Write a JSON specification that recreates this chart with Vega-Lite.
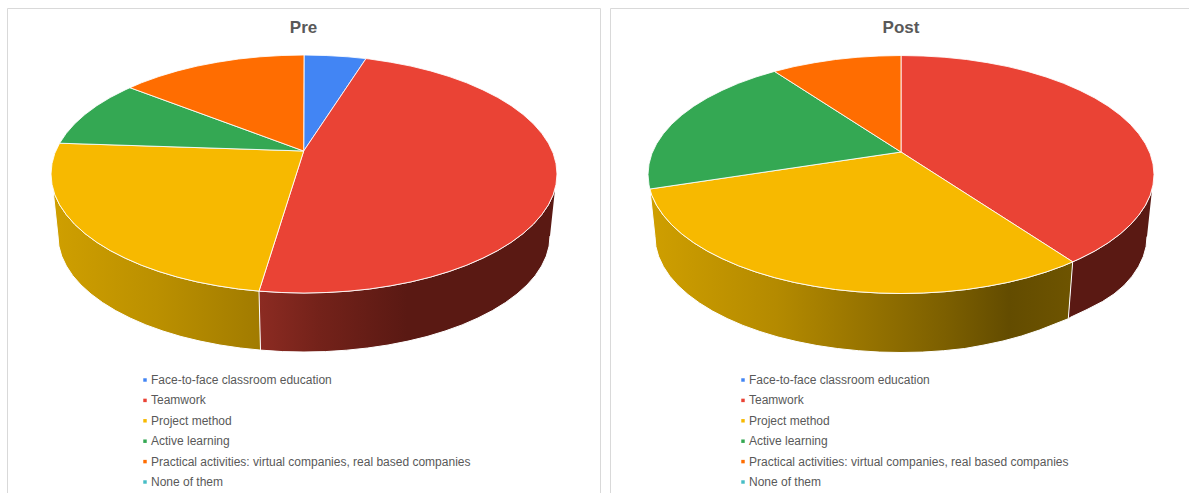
{"$schema":"https://vega.github.io/schema/vega-lite/v6.json","padding":{"left":6,"top":7,"right":0,"bottom":0},"background":"white","spacing":8,"resolve":{"scale":{"fill":"independent"},"legend":{"fill":"independent"}},"config":{"view":{"stroke":"#d9d9d9","strokeWidth":1},"title":{"font":"Liberation Sans","fontSize":17,"fontWeight":"bold","color":"#595959","anchor":"middle","baseline":"middle","offset":-29},"legend":{"orient":"none","direction":"vertical","title":null,"symbolType":"square","symbolSize":12,"symbolStrokeWidth":0,"labelFont":"Liberation Sans","labelFontSize":12,"labelColor":"#595959","labelLimit":400,"rowPadding":8.4,"labelOffset":0,"columns":1}},
"datasets":{"pre":[
{"s":"Face-to-face classroom education","p":"top","n":0,"u":-0.3,"v":23},{"s":"Face-to-face classroom education","p":"top","n":1,"u":0,"v":119},{"s":"Face-to-face classroom education","p":"top","n":2,"u":22.1,"v":118.5},{"s":"Face-to-face classroom education","p":"top","n":3,"u":43.9,"v":117.2},{"s":"Face-to-face classroom education","p":"top","n":4,"u":62,"v":115.4},{"s":"Face-to-face classroom education","p":"top","n":5,"u":-0.3,"v":23},
{"s":"Teamwork","p":"top","n":0,"u":-0.3,"v":23},{"s":"Teamwork","p":"top","n":1,"u":62,"v":115.4},{"s":"Teamwork","p":"top","n":2,"u":65.5,"v":115},{"s":"Teamwork","p":"top","n":3,"u":86.5,"v":111.8},{"s":"Teamwork","p":"top","n":4,"u":106.9,"v":107.9},{"s":"Teamwork","p":"top","n":5,"u":126.5,"v":103.1},{"s":"Teamwork","p":"top","n":6,"u":145.1,"v":97.5},{"s":"Teamwork","p":"top","n":7,"u":162.6,"v":91.2},{"s":"Teamwork","p":"top","n":8,"u":178.9,"v":84.1},{"s":"Teamwork","p":"top","n":9,"u":193.8,"v":76.5},{"s":"Teamwork","p":"top","n":10,"u":207.2,"v":68.3},{"s":"Teamwork","p":"top","n":11,"u":219.1,"v":59.5},{"s":"Teamwork","p":"top","n":12,"u":229.3,"v":50.3},{"s":"Teamwork","p":"top","n":13,"u":237.7,"v":40.7},{"s":"Teamwork","p":"top","n":14,"u":244.4,"v":30.8},{"s":"Teamwork","p":"top","n":15,"u":249.2,"v":20.7},{"s":"Teamwork","p":"top","n":16,"u":252,"v":10.4},{"s":"Teamwork","p":"top","n":17,"u":253,"v":0},{"s":"Teamwork","p":"top","n":18,"u":252,"v":-10.4},{"s":"Teamwork","p":"top","n":19,"u":249.2,"v":-20.7},{"s":"Teamwork","p":"top","n":20,"u":244.4,"v":-30.8},{"s":"Teamwork","p":"top","n":21,"u":237.7,"v":-40.7},{"s":"Teamwork","p":"top","n":22,"u":229.3,"v":-50.3},{"s":"Teamwork","p":"top","n":23,"u":219.1,"v":-59.5},{"s":"Teamwork","p":"top","n":24,"u":207.2,"v":-68.3},{"s":"Teamwork","p":"top","n":25,"u":193.8,"v":-76.5},{"s":"Teamwork","p":"top","n":26,"u":178.9,"v":-84.1},{"s":"Teamwork","p":"top","n":27,"u":162.6,"v":-91.2},{"s":"Teamwork","p":"top","n":28,"u":145.1,"v":-97.5},{"s":"Teamwork","p":"top","n":29,"u":126.5,"v":-103.1},{"s":"Teamwork","p":"top","n":30,"u":106.9,"v":-107.9},{"s":"Teamwork","p":"top","n":31,"u":86.5,"v":-111.8},{"s":"Teamwork","p":"top","n":32,"u":65.5,"v":-115},{"s":"Teamwork","p":"top","n":33,"u":43.9,"v":-117.2},{"s":"Teamwork","p":"top","n":34,"u":22.1,"v":-118.5},{"s":"Teamwork","p":"top","n":35,"u":0,"v":-119},{"s":"Teamwork","p":"top","n":36,"u":-22.1,"v":-118.5},{"s":"Teamwork","p":"top","n":37,"u":-45,"v":-117.1},{"s":"Teamwork","p":"top","n":38,"u":-0.3,"v":23},
{"s":"Project method","p":"top","n":0,"u":-0.3,"v":23},{"s":"Project method","p":"top","n":1,"u":-45,"v":-117.1},{"s":"Project method","p":"top","n":2,"u":-65.5,"v":-115},{"s":"Project method","p":"top","n":3,"u":-86.5,"v":-111.8},{"s":"Project method","p":"top","n":4,"u":-106.9,"v":-107.9},{"s":"Project method","p":"top","n":5,"u":-126.5,"v":-103.1},{"s":"Project method","p":"top","n":6,"u":-145.1,"v":-97.5},{"s":"Project method","p":"top","n":7,"u":-162.6,"v":-91.2},{"s":"Project method","p":"top","n":8,"u":-178.9,"v":-84.1},{"s":"Project method","p":"top","n":9,"u":-193.8,"v":-76.5},{"s":"Project method","p":"top","n":10,"u":-207.2,"v":-68.3},{"s":"Project method","p":"top","n":11,"u":-219.1,"v":-59.5},{"s":"Project method","p":"top","n":12,"u":-229.3,"v":-50.3},{"s":"Project method","p":"top","n":13,"u":-237.7,"v":-40.7},{"s":"Project method","p":"top","n":14,"u":-244.4,"v":-30.8},{"s":"Project method","p":"top","n":15,"u":-249.2,"v":-20.7},{"s":"Project method","p":"top","n":16,"u":-252,"v":-10.4},{"s":"Project method","p":"top","n":17,"u":-253,"v":0},{"s":"Project method","p":"top","n":18,"u":-252,"v":10.4},{"s":"Project method","p":"top","n":19,"u":-249.2,"v":20.7},{"s":"Project method","p":"top","n":20,"u":-244.4,"v":30.8},{"s":"Project method","p":"top","n":21,"u":-0.3,"v":23},
{"s":"Active learning","p":"top","n":0,"u":-0.3,"v":23},{"s":"Active learning","p":"top","n":1,"u":-244.4,"v":30.8},{"s":"Active learning","p":"top","n":2,"u":-237.7,"v":40.7},{"s":"Active learning","p":"top","n":3,"u":-229.3,"v":50.3},{"s":"Active learning","p":"top","n":4,"u":-219.1,"v":59.5},{"s":"Active learning","p":"top","n":5,"u":-207.2,"v":68.3},{"s":"Active learning","p":"top","n":6,"u":-193.8,"v":76.5},{"s":"Active learning","p":"top","n":7,"u":-178.9,"v":84.1},{"s":"Active learning","p":"top","n":8,"u":-174,"v":86.3},{"s":"Active learning","p":"top","n":9,"u":-0.3,"v":23},
{"s":"Practical activities: virtual companies, real based companies","p":"top","n":0,"u":-0.3,"v":23},{"s":"Practical activities: virtual companies, real based companies","p":"top","n":1,"u":-174,"v":86.3},{"s":"Practical activities: virtual companies, real based companies","p":"top","n":2,"u":-162.6,"v":91.2},{"s":"Practical activities: virtual companies, real based companies","p":"top","n":3,"u":-145.1,"v":97.5},{"s":"Practical activities: virtual companies, real based companies","p":"top","n":4,"u":-126.5,"v":103.1},{"s":"Practical activities: virtual companies, real based companies","p":"top","n":5,"u":-106.9,"v":107.9},{"s":"Practical activities: virtual companies, real based companies","p":"top","n":6,"u":-86.5,"v":111.8},{"s":"Practical activities: virtual companies, real based companies","p":"top","n":7,"u":-65.5,"v":115},{"s":"Practical activities: virtual companies, real based companies","p":"top","n":8,"u":-43.9,"v":117.2},{"s":"Practical activities: virtual companies, real based companies","p":"top","n":9,"u":-22.1,"v":118.5},{"s":"Practical activities: virtual companies, real based companies","p":"top","n":10,"u":0,"v":119},{"s":"Practical activities: virtual companies, real based companies","p":"top","n":11,"u":-0.3,"v":23},
{"s":"Teamwork","p":"wall","n":0,"u":251.1,"v":-14.5},{"s":"Teamwork","p":"wall","n":1,"u":249.2,"v":-20.7},{"s":"Teamwork","p":"wall","n":2,"u":244.4,"v":-30.8},{"s":"Teamwork","p":"wall","n":3,"u":237.7,"v":-40.7},{"s":"Teamwork","p":"wall","n":4,"u":229.3,"v":-50.3},{"s":"Teamwork","p":"wall","n":5,"u":219.1,"v":-59.5},{"s":"Teamwork","p":"wall","n":6,"u":207.2,"v":-68.3},{"s":"Teamwork","p":"wall","n":7,"u":193.8,"v":-76.5},{"s":"Teamwork","p":"wall","n":8,"u":178.9,"v":-84.1},{"s":"Teamwork","p":"wall","n":9,"u":162.6,"v":-91.2},{"s":"Teamwork","p":"wall","n":10,"u":145.1,"v":-97.5},{"s":"Teamwork","p":"wall","n":11,"u":126.5,"v":-103.1},{"s":"Teamwork","p":"wall","n":12,"u":106.9,"v":-107.9},{"s":"Teamwork","p":"wall","n":13,"u":86.5,"v":-111.8},{"s":"Teamwork","p":"wall","n":14,"u":65.5,"v":-115},{"s":"Teamwork","p":"wall","n":15,"u":43.9,"v":-117.2},{"s":"Teamwork","p":"wall","n":16,"u":22.1,"v":-118.5},{"s":"Teamwork","p":"wall","n":17,"u":0,"v":-119},{"s":"Teamwork","p":"wall","n":18,"u":-22.1,"v":-118.5},{"s":"Teamwork","p":"wall","n":19,"u":-45,"v":-117.1},{"s":"Teamwork","p":"wall","n":20,"u":-43.5,"v":-176.1},{"s":"Teamwork","p":"wall","n":21,"u":-21.4,"v":-177.6},{"s":"Teamwork","p":"wall","n":22,"u":0,"v":-178},{"s":"Teamwork","p":"wall","n":23,"u":21.4,"v":-177.6},{"s":"Teamwork","p":"wall","n":24,"u":42.7,"v":-176.2},{"s":"Teamwork","p":"wall","n":25,"u":63.7,"v":-174},{"s":"Teamwork","p":"wall","n":26,"u":84.1,"v":-171},{"s":"Teamwork","p":"wall","n":27,"u":104,"v":-167.1},{"s":"Teamwork","p":"wall","n":28,"u":123,"v":-162.5},{"s":"Teamwork","p":"wall","n":29,"u":141.1,"v":-157},{"s":"Teamwork","p":"wall","n":30,"u":158.1,"v":-150.9},{"s":"Teamwork","p":"wall","n":31,"u":173.9,"v":-144},{"s":"Teamwork","p":"wall","n":32,"u":188.4,"v":-136.6},{"s":"Teamwork","p":"wall","n":33,"u":201.5,"v":-128.5},{"s":"Teamwork","p":"wall","n":34,"u":213,"v":-120},{"s":"Teamwork","p":"wall","n":35,"u":223,"v":-111},{"s":"Teamwork","p":"wall","n":36,"u":231.2,"v":-101.7},{"s":"Teamwork","p":"wall","n":37,"u":237.6,"v":-92},{"s":"Teamwork","p":"wall","n":38,"u":242.3,"v":-82.1},{"s":"Teamwork","p":"wall","n":39,"u":245.1,"v":-72.1},{"s":"Teamwork","p":"wall","n":40,"u":246,"v":-62},
{"s":"Project method","p":"wall","n":0,"u":-45,"v":-117.1},{"s":"Project method","p":"wall","n":1,"u":-65.5,"v":-115},{"s":"Project method","p":"wall","n":2,"u":-86.5,"v":-111.8},{"s":"Project method","p":"wall","n":3,"u":-106.9,"v":-107.9},{"s":"Project method","p":"wall","n":4,"u":-126.5,"v":-103.1},{"s":"Project method","p":"wall","n":5,"u":-145.1,"v":-97.5},{"s":"Project method","p":"wall","n":6,"u":-162.6,"v":-91.2},{"s":"Project method","p":"wall","n":7,"u":-178.9,"v":-84.1},{"s":"Project method","p":"wall","n":8,"u":-193.8,"v":-76.5},{"s":"Project method","p":"wall","n":9,"u":-207.2,"v":-68.3},{"s":"Project method","p":"wall","n":10,"u":-219.1,"v":-59.5},{"s":"Project method","p":"wall","n":11,"u":-229.3,"v":-50.3},{"s":"Project method","p":"wall","n":12,"u":-237.7,"v":-40.7},{"s":"Project method","p":"wall","n":13,"u":-244.4,"v":-30.8},{"s":"Project method","p":"wall","n":14,"u":-249.2,"v":-20.7},{"s":"Project method","p":"wall","n":15,"u":-251.1,"v":-14.5},{"s":"Project method","p":"wall","n":16,"u":-246,"v":-62},{"s":"Project method","p":"wall","n":17,"u":-245.1,"v":-72.1},{"s":"Project method","p":"wall","n":18,"u":-242.3,"v":-82.1},{"s":"Project method","p":"wall","n":19,"u":-237.6,"v":-92},{"s":"Project method","p":"wall","n":20,"u":-231.2,"v":-101.7},{"s":"Project method","p":"wall","n":21,"u":-223,"v":-111},{"s":"Project method","p":"wall","n":22,"u":-213,"v":-120},{"s":"Project method","p":"wall","n":23,"u":-201.5,"v":-128.5},{"s":"Project method","p":"wall","n":24,"u":-188.4,"v":-136.6},{"s":"Project method","p":"wall","n":25,"u":-173.9,"v":-144},{"s":"Project method","p":"wall","n":26,"u":-158.1,"v":-150.9},{"s":"Project method","p":"wall","n":27,"u":-141.1,"v":-157},{"s":"Project method","p":"wall","n":28,"u":-123,"v":-162.5},{"s":"Project method","p":"wall","n":29,"u":-104,"v":-167.1},{"s":"Project method","p":"wall","n":30,"u":-84.1,"v":-171},{"s":"Project method","p":"wall","n":31,"u":-63.7,"v":-174},{"s":"Project method","p":"wall","n":32,"u":-43.5,"v":-176.1}
],"post":[
{"s":"Teamwork","p":"top","n":0,"u":0,"v":22.5},{"s":"Teamwork","p":"top","n":1,"u":0,"v":119},{"s":"Teamwork","p":"top","n":2,"u":22.1,"v":118.5},{"s":"Teamwork","p":"top","n":3,"u":43.9,"v":117.2},{"s":"Teamwork","p":"top","n":4,"u":65.5,"v":115},{"s":"Teamwork","p":"top","n":5,"u":86.5,"v":111.8},{"s":"Teamwork","p":"top","n":6,"u":106.9,"v":107.9},{"s":"Teamwork","p":"top","n":7,"u":126.5,"v":103.1},{"s":"Teamwork","p":"top","n":8,"u":145.1,"v":97.5},{"s":"Teamwork","p":"top","n":9,"u":162.6,"v":91.2},{"s":"Teamwork","p":"top","n":10,"u":178.9,"v":84.1},{"s":"Teamwork","p":"top","n":11,"u":193.8,"v":76.5},{"s":"Teamwork","p":"top","n":12,"u":207.2,"v":68.3},{"s":"Teamwork","p":"top","n":13,"u":219.1,"v":59.5},{"s":"Teamwork","p":"top","n":14,"u":229.3,"v":50.3},{"s":"Teamwork","p":"top","n":15,"u":237.7,"v":40.7},{"s":"Teamwork","p":"top","n":16,"u":244.4,"v":30.8},{"s":"Teamwork","p":"top","n":17,"u":249.2,"v":20.7},{"s":"Teamwork","p":"top","n":18,"u":252,"v":10.4},{"s":"Teamwork","p":"top","n":19,"u":253,"v":0},{"s":"Teamwork","p":"top","n":20,"u":252,"v":-10.4},{"s":"Teamwork","p":"top","n":21,"u":249.2,"v":-20.7},{"s":"Teamwork","p":"top","n":22,"u":244.4,"v":-30.8},{"s":"Teamwork","p":"top","n":23,"u":237.7,"v":-40.7},{"s":"Teamwork","p":"top","n":24,"u":229.3,"v":-50.3},{"s":"Teamwork","p":"top","n":25,"u":219.1,"v":-59.5},{"s":"Teamwork","p":"top","n":26,"u":207.2,"v":-68.3},{"s":"Teamwork","p":"top","n":27,"u":193.8,"v":-76.5},{"s":"Teamwork","p":"top","n":28,"u":178.9,"v":-84.1},{"s":"Teamwork","p":"top","n":29,"u":171.7,"v":-87.3},{"s":"Teamwork","p":"top","n":30,"u":0,"v":22.5},
{"s":"Project method","p":"top","n":0,"u":0,"v":22.5},{"s":"Project method","p":"top","n":1,"u":171.7,"v":-87.3},{"s":"Project method","p":"top","n":2,"u":162.6,"v":-91.2},{"s":"Project method","p":"top","n":3,"u":145.1,"v":-97.5},{"s":"Project method","p":"top","n":4,"u":126.5,"v":-103.1},{"s":"Project method","p":"top","n":5,"u":106.9,"v":-107.9},{"s":"Project method","p":"top","n":6,"u":86.5,"v":-111.8},{"s":"Project method","p":"top","n":7,"u":65.5,"v":-115},{"s":"Project method","p":"top","n":8,"u":43.9,"v":-117.2},{"s":"Project method","p":"top","n":9,"u":22.1,"v":-118.5},{"s":"Project method","p":"top","n":10,"u":0,"v":-119},{"s":"Project method","p":"top","n":11,"u":-22.1,"v":-118.5},{"s":"Project method","p":"top","n":12,"u":-43.9,"v":-117.2},{"s":"Project method","p":"top","n":13,"u":-65.5,"v":-115},{"s":"Project method","p":"top","n":14,"u":-86.5,"v":-111.8},{"s":"Project method","p":"top","n":15,"u":-106.9,"v":-107.9},{"s":"Project method","p":"top","n":16,"u":-126.5,"v":-103.1},{"s":"Project method","p":"top","n":17,"u":-145.1,"v":-97.5},{"s":"Project method","p":"top","n":18,"u":-162.6,"v":-91.2},{"s":"Project method","p":"top","n":19,"u":-178.9,"v":-84.1},{"s":"Project method","p":"top","n":20,"u":-193.8,"v":-76.5},{"s":"Project method","p":"top","n":21,"u":-207.2,"v":-68.3},{"s":"Project method","p":"top","n":22,"u":-219.1,"v":-59.5},{"s":"Project method","p":"top","n":23,"u":-229.3,"v":-50.3},{"s":"Project method","p":"top","n":24,"u":-237.7,"v":-40.7},{"s":"Project method","p":"top","n":25,"u":-244.4,"v":-30.8},{"s":"Project method","p":"top","n":26,"u":-249.2,"v":-20.7},{"s":"Project method","p":"top","n":27,"u":-251.1,"v":-14.5},{"s":"Project method","p":"top","n":28,"u":0,"v":22.5},
{"s":"Active learning","p":"top","n":0,"u":0,"v":22.5},{"s":"Active learning","p":"top","n":1,"u":-251.1,"v":-14.5},{"s":"Active learning","p":"top","n":2,"u":-252,"v":-10.4},{"s":"Active learning","p":"top","n":3,"u":-253,"v":0},{"s":"Active learning","p":"top","n":4,"u":-252,"v":10.4},{"s":"Active learning","p":"top","n":5,"u":-249.2,"v":20.7},{"s":"Active learning","p":"top","n":6,"u":-244.4,"v":30.8},{"s":"Active learning","p":"top","n":7,"u":-237.7,"v":40.7},{"s":"Active learning","p":"top","n":8,"u":-229.3,"v":50.3},{"s":"Active learning","p":"top","n":9,"u":-219.1,"v":59.5},{"s":"Active learning","p":"top","n":10,"u":-207.2,"v":68.3},{"s":"Active learning","p":"top","n":11,"u":-193.8,"v":76.5},{"s":"Active learning","p":"top","n":12,"u":-178.9,"v":84.1},{"s":"Active learning","p":"top","n":13,"u":-162.6,"v":91.2},{"s":"Active learning","p":"top","n":14,"u":-145.1,"v":97.5},{"s":"Active learning","p":"top","n":15,"u":-126.5,"v":103.1},{"s":"Active learning","p":"top","n":16,"u":0,"v":22.5},
{"s":"Practical activities: virtual companies, real based companies","p":"top","n":0,"u":0,"v":22.5},{"s":"Practical activities: virtual companies, real based companies","p":"top","n":1,"u":-126.5,"v":103.1},{"s":"Practical activities: virtual companies, real based companies","p":"top","n":2,"u":-106.9,"v":107.9},{"s":"Practical activities: virtual companies, real based companies","p":"top","n":3,"u":-86.5,"v":111.8},{"s":"Practical activities: virtual companies, real based companies","p":"top","n":4,"u":-65.5,"v":115},{"s":"Practical activities: virtual companies, real based companies","p":"top","n":5,"u":-43.9,"v":117.2},{"s":"Practical activities: virtual companies, real based companies","p":"top","n":6,"u":-22.1,"v":118.5},{"s":"Practical activities: virtual companies, real based companies","p":"top","n":7,"u":0,"v":119},{"s":"Practical activities: virtual companies, real based companies","p":"top","n":8,"u":0,"v":22.5},
{"s":"Teamwork","p":"wall","n":0,"u":251.1,"v":-14.5},{"s":"Teamwork","p":"wall","n":1,"u":249.2,"v":-20.7},{"s":"Teamwork","p":"wall","n":2,"u":244.4,"v":-30.8},{"s":"Teamwork","p":"wall","n":3,"u":237.7,"v":-40.7},{"s":"Teamwork","p":"wall","n":4,"u":229.3,"v":-50.3},{"s":"Teamwork","p":"wall","n":5,"u":219.1,"v":-59.5},{"s":"Teamwork","p":"wall","n":6,"u":207.2,"v":-68.3},{"s":"Teamwork","p":"wall","n":7,"u":193.8,"v":-76.5},{"s":"Teamwork","p":"wall","n":8,"u":178.9,"v":-84.1},{"s":"Teamwork","p":"wall","n":9,"u":171.7,"v":-87.3},{"s":"Teamwork","p":"wall","n":10,"u":167.3,"v":-144.2},{"s":"Teamwork","p":"wall","n":11,"u":170,"v":-142.5},{"s":"Teamwork","p":"wall","n":12,"u":186,"v":-135},{"s":"Teamwork","p":"wall","n":13,"u":201.5,"v":-127},{"s":"Teamwork","p":"wall","n":14,"u":213,"v":-119.5},{"s":"Teamwork","p":"wall","n":15,"u":223,"v":-111},{"s":"Teamwork","p":"wall","n":16,"u":231.2,"v":-101.7},{"s":"Teamwork","p":"wall","n":17,"u":237.6,"v":-92},{"s":"Teamwork","p":"wall","n":18,"u":242.3,"v":-82.1},{"s":"Teamwork","p":"wall","n":19,"u":245.1,"v":-72.1},{"s":"Teamwork","p":"wall","n":20,"u":246,"v":-62},
{"s":"Project method","p":"wall","n":0,"u":171.7,"v":-87.3},{"s":"Project method","p":"wall","n":1,"u":162.6,"v":-91.2},{"s":"Project method","p":"wall","n":2,"u":145.1,"v":-97.5},{"s":"Project method","p":"wall","n":3,"u":126.5,"v":-103.1},{"s":"Project method","p":"wall","n":4,"u":106.9,"v":-107.9},{"s":"Project method","p":"wall","n":5,"u":86.5,"v":-111.8},{"s":"Project method","p":"wall","n":6,"u":65.5,"v":-115},{"s":"Project method","p":"wall","n":7,"u":43.9,"v":-117.2},{"s":"Project method","p":"wall","n":8,"u":22.1,"v":-118.5},{"s":"Project method","p":"wall","n":9,"u":0,"v":-119},{"s":"Project method","p":"wall","n":10,"u":-22.1,"v":-118.5},{"s":"Project method","p":"wall","n":11,"u":-43.9,"v":-117.2},{"s":"Project method","p":"wall","n":12,"u":-65.5,"v":-115},{"s":"Project method","p":"wall","n":13,"u":-86.5,"v":-111.8},{"s":"Project method","p":"wall","n":14,"u":-106.9,"v":-107.9},{"s":"Project method","p":"wall","n":15,"u":-126.5,"v":-103.1},{"s":"Project method","p":"wall","n":16,"u":-145.1,"v":-97.5},{"s":"Project method","p":"wall","n":17,"u":-162.6,"v":-91.2},{"s":"Project method","p":"wall","n":18,"u":-178.9,"v":-84.1},{"s":"Project method","p":"wall","n":19,"u":-193.8,"v":-76.5},{"s":"Project method","p":"wall","n":20,"u":-207.2,"v":-68.3},{"s":"Project method","p":"wall","n":21,"u":-219.1,"v":-59.5},{"s":"Project method","p":"wall","n":22,"u":-229.3,"v":-50.3},{"s":"Project method","p":"wall","n":23,"u":-237.7,"v":-40.7},{"s":"Project method","p":"wall","n":24,"u":-244.4,"v":-30.8},{"s":"Project method","p":"wall","n":25,"u":-249.2,"v":-20.7},{"s":"Project method","p":"wall","n":26,"u":-251.1,"v":-14.5},{"s":"Project method","p":"wall","n":27,"u":-246,"v":-62},{"s":"Project method","p":"wall","n":28,"u":-245.1,"v":-72.1},{"s":"Project method","p":"wall","n":29,"u":-242.3,"v":-82.1},{"s":"Project method","p":"wall","n":30,"u":-237.6,"v":-92},{"s":"Project method","p":"wall","n":31,"u":-231.2,"v":-101.7},{"s":"Project method","p":"wall","n":32,"u":-223,"v":-111},{"s":"Project method","p":"wall","n":33,"u":-213,"v":-120},{"s":"Project method","p":"wall","n":34,"u":-201.5,"v":-128.5},{"s":"Project method","p":"wall","n":35,"u":-188.4,"v":-136.6},{"s":"Project method","p":"wall","n":36,"u":-173.9,"v":-144},{"s":"Project method","p":"wall","n":37,"u":-158.1,"v":-150.9},{"s":"Project method","p":"wall","n":38,"u":-141.1,"v":-157},{"s":"Project method","p":"wall","n":39,"u":-123,"v":-162.5},{"s":"Project method","p":"wall","n":40,"u":-104,"v":-167.1},{"s":"Project method","p":"wall","n":41,"u":-84.1,"v":-171},{"s":"Project method","p":"wall","n":42,"u":-63.7,"v":-174},{"s":"Project method","p":"wall","n":43,"u":-42.7,"v":-176.2},{"s":"Project method","p":"wall","n":44,"u":-21.4,"v":-177.6},{"s":"Project method","p":"wall","n":45,"u":0,"v":-178},{"s":"Project method","p":"wall","n":46,"u":21.4,"v":-177.6},{"s":"Project method","p":"wall","n":47,"u":42.7,"v":-176.2},{"s":"Project method","p":"wall","n":48,"u":63.7,"v":-174},{"s":"Project method","p":"wall","n":49,"u":83,"v":-170.5},{"s":"Project method","p":"wall","n":50,"u":102,"v":-166.5},{"s":"Project method","p":"wall","n":51,"u":120.5,"v":-161.5},{"s":"Project method","p":"wall","n":52,"u":138.5,"v":-155.5},{"s":"Project method","p":"wall","n":53,"u":155,"v":-149},{"s":"Project method","p":"wall","n":54,"u":167.3,"v":-144.2}
]},
"hconcat":[
{"title":{"text":"Pre"},"width":593,"height":485,"data":{"name":"pre"},"encoding":{"x":{"field":"u","type":"quantitative","scale":{"domain":[-297,296]},"axis":null},"y":{"field":"v","type":"quantitative","scale":{"domain":[-319,166]},"axis":null},"order":{"field":"n","type":"quantitative"}},"layer":[
{"transform":[{"filter":"datum.p=='wall' && datum.s=='Project method'"}],"mark":{"type":"line","filled":true,"stroke":"white","strokeWidth":1,"fill":{"gradient":"linear","x1":0,"x2":1,"y1":0,"y2":0,"stops":[{"offset":0,"color":"#cf9f00"},{"offset":0.5,"color":"#bb9000"},{"offset":1,"color":"#a17b00"}]}}},
{"transform":[{"filter":"datum.p=='wall' && datum.s=='Teamwork'"}],"mark":{"type":"line","filled":true,"stroke":"white","strokeWidth":1,"fill":{"gradient":"linear","x1":0,"x2":1,"y1":0,"y2":0,"stops":[{"offset":0,"color":"#8c2b22"},{"offset":0.2,"color":"#74221a"},{"offset":0.5,"color":"#5a1913"},{"offset":1,"color":"#5a1913"}]}}},
{"transform":[{"filter":"datum.p=='top'"}],"mark":{"type":"line","filled":true,"stroke":"white","strokeWidth":1,"strokeOpacity":0.85},"encoding":{"fill":{"field":"s","type":"nominal","scale":{"domain":["Face-to-face classroom education","Teamwork","Project method","Active learning","Practical activities: virtual companies, real based companies","None of them"],"range":["#4285f4","#ea4335","#f7b900","#34a853","#ff6d01","#46bdc6"]},"legend":{"legendX":132,"legendY":366}}}}
]},
{"title":{"text":"Post","dx":1.5},"width":579,"height":485,"data":{"name":"post"},"encoding":{"x":{"field":"u","type":"quantitative","scale":{"domain":[-291,288]},"axis":null},"y":{"field":"v","type":"quantitative","scale":{"domain":[-318.5,166.5]},"axis":null},"order":{"field":"n","type":"quantitative"}},"layer":[
{"transform":[{"filter":"datum.p=='wall' && datum.s=='Project method'"}],"mark":{"type":"line","filled":true,"stroke":"white","strokeWidth":1,"fill":{"gradient":"linear","x1":0,"x2":1,"y1":0,"y2":0,"stops":[{"offset":0,"color":"#cf9f00"},{"offset":0.3,"color":"#b48a00"},{"offset":0.7,"color":"#7c5f00"},{"offset":0.85,"color":"#634c00"},{"offset":1,"color":"#6e5400"}]}}},
{"transform":[{"filter":"datum.p=='wall' && datum.s=='Teamwork'"}],"mark":{"type":"line","filled":true,"stroke":"white","strokeWidth":1,"fill":"#5a1913"}},
{"transform":[{"filter":"datum.p=='top'"}],"mark":{"type":"line","filled":true,"stroke":"white","strokeWidth":1,"strokeOpacity":0.85},"encoding":{"fill":{"field":"s","type":"nominal","scale":{"domain":["Face-to-face classroom education","Teamwork","Project method","Active learning","Practical activities: virtual companies, real based companies","None of them"],"range":["#4285f4","#ea4335","#f7b900","#34a853","#ff6d01","#46bdc6"]},"legend":{"legendX":127,"legendY":366}}}}
]}
]}
